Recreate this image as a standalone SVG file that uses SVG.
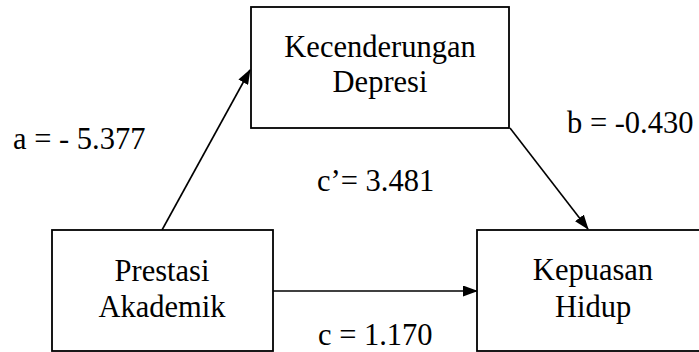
<svg xmlns="http://www.w3.org/2000/svg" width="699" height="352" viewBox="0 0 699 352">
<defs>
<marker id="arr" markerWidth="15" markerHeight="11" refX="14" refY="5.5" orient="auto" markerUnits="userSpaceOnUse">
<path d="M0,0 L15,5.5 L0,11 Z" fill="#000"/>
</marker>
<style>
.box{fill:#fff;stroke:#000;stroke-width:1.8}
.t{font-family:'Liberation Serif','Times New Roman',serif;font-size:30.5px;fill:#000}
.m{text-anchor:middle}
.c{stroke:#000;stroke-width:1.6;fill:none;marker-end:url(#arr)}
</style>
</defs>
<rect width="699" height="352" fill="#fff"/>
<g id="connectors">
<line class="c" x1="162" y1="230" x2="250" y2="70"/>
<line class="c" x1="510" y1="128" x2="588" y2="229"/>
<line class="c" x1="273" y1="291" x2="477" y2="291"/>
</g>
<g id="kecenderungan">
<rect class="box" x="251" y="7" width="258" height="121"/>
<text class="t m" x="380" y="57">Kecenderungan</text>
<text class="t m" x="380" y="92">Depresi</text>
</g>
<g id="prestasi">
<rect class="box" x="52" y="230" width="221" height="121"/>
<text class="t m" x="162" y="281">Prestasi</text>
<text class="t m" x="162" y="317">Akademik</text>
</g>
<g id="kepuasan">
<rect class="box" x="477" y="230" width="232" height="121"/>
<text class="t m" x="593" y="280">Kepuasan</text>
<text class="t m" x="593" y="317">Hidup</text>
</g>
<g id="labels">
<text class="t" x="13" y="149">a = - 5.377</text>
<text class="t" x="567" y="133">b = -0.430</text>
<text class="t" x="317" y="191">c’= 3.481</text>
<text class="t" x="318" y="345">c = 1.170</text>
</g>
</svg>
